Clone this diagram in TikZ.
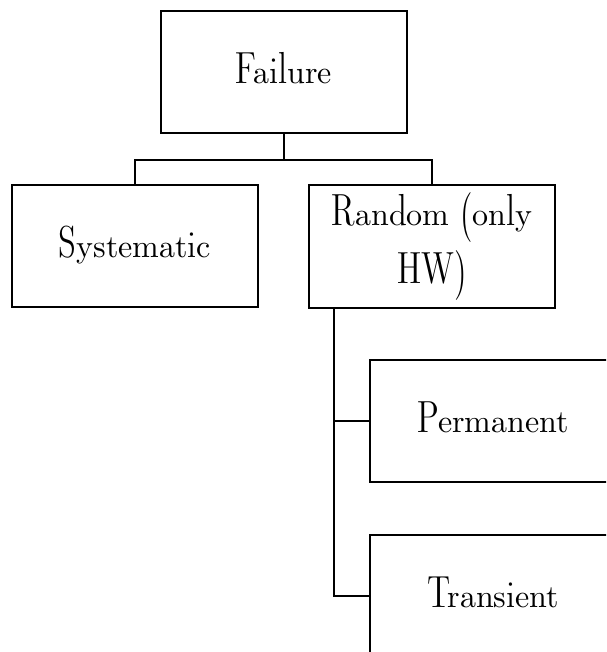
\documentclass[tikz,border=0pt]{standalone}
\usepackage{fontspec}
\setmainfont{lmromandunh10-regular}[Extension=.otf]
\begin{document}
\begin{tikzpicture}[x=0.5pt,y=-0.5pt,
  box/.style={draw,line width=1pt,rectangle,inner sep=0pt,
    minimum width=123pt,minimum height=61pt,align=center,
    font=\fontsize{16pt}{28.5pt}\selectfont},
  oneline/.style={box,text height=17pt,text depth=5.5pt},
  link/.style={line width=1pt}]
\useasboundingbox (0,0) rectangle (606,652);
\clip (0,0) rectangle (606,652);
% top level
\node[oneline] (fail) at (283.5,72) {Failure};
% failure classes
\node[oneline] (sys) at (135,246) {Systematic};
\node[box] (rnd) at (432,246.5) {Random (only\\HW)};
% random failure kinds
\node[oneline] (perm) at (493,421) {Permanent};
\node[oneline] (trans) at (493,596) {Transient};
% tree connectors
\coordinate (jn) at (283.5,160);
\draw[link] (fail.south) -- (jn);
\draw[link] (sys.north) |- (jn) -| (rnd.north);
\coordinate (stem) at ([xshift=13pt]rnd.south west);
\draw[link] (stem) |- (perm.west);
\draw[link] (stem) |- (trans.west);
\end{tikzpicture}
\end{document}
